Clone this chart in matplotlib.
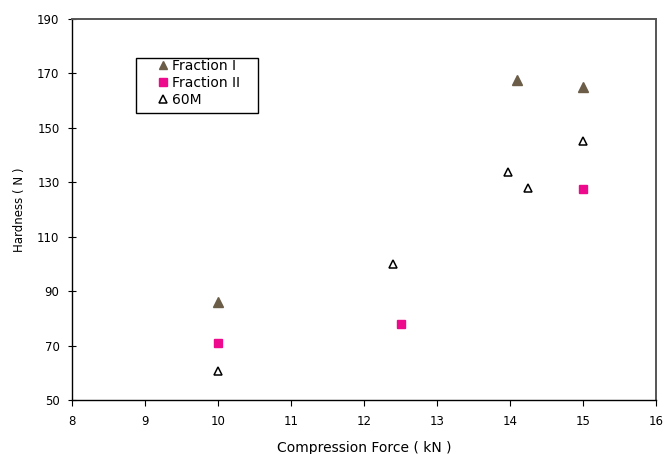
import numpy as np
import matplotlib
matplotlib.use("Agg")
import matplotlib.pyplot as plt
from matplotlib.patches import Rectangle

plt.rcParams['font.family'] = ['DejaVu Sans']

# compression force (kN) and tablet hardness (N)
frac1_x = [10.0, 14.1, 15.0]
frac1_y = [86.0, 167.5, 165.0]
frac2_x = [10.0, 12.5, 15.0]
frac2_y = [71.0, 78.0, 127.5]
m60_x = [10.0, 12.4, 13.97, 14.25, 15.0]
m60_y = [60.6, 100.0, 133.8, 127.8, 145.0]

xticks = np.arange(8, 17, 1)
yticks = np.arange(50, 191, 20)

W, H = 665, 454
fig = plt.figure(figsize=(W / 100, H / 100), dpi=100)
ax = fig.add_axes([72/W, 1 - 400/H, 584/W, 381/H])

ax.plot(frac1_x, frac1_y, linestyle='none', marker='^', markersize=6.5,
        color='#6b5d48', label='Fraction I')
ax.plot(frac2_x, frac2_y, linestyle='none', marker='s', markersize=6.3,
        color='#ee0a8c', label='Fraction II')
ax.plot(m60_x, m60_y, linestyle='none', marker='^', markersize=6.3,
        markerfacecolor='white', markeredgecolor='black', markeredgewidth=1.1,
        label='60M')

ax.set_xlim(8, 16)
ax.set_ylim(50, 190)
ax.set_xticks(xticks)
ax.set_yticks(yticks)
for side in ['top', 'right']:
    ax.spines[side].set_color('#555555')
    ax.spines[side].set_linewidth(1.4)
for side in ['left', 'bottom']:
    ax.spines[side].set_color('black')
    ax.spines[side].set_linewidth(1.0)
ax.tick_params(axis='y', direction='inout', length=6, labelsize=8.5, pad=6)
ax.tick_params(axis='x', direction='out', length=4, labelsize=8.5, pad=7)
ax.set_xlabel('Compression Force ( kN )', fontsize=10, labelpad=9)
ax.set_ylabel('Hardness ( N )', fontsize=8.5, labelpad=8)

# legend box with the entries set inside it
fig.patches.append(Rectangle((136/W, 1 - 113/H), 122/W, 55/H,
                             transform=fig.transFigure, fill=False,
                             edgecolor='black', linewidth=1.0))
leg = fig.legend(loc='upper left', bbox_to_anchor=(157/W, 1 - 59/H),
                 fontsize=10, frameon=False, handlelength=0.8,
                 handletextpad=0.25, borderpad=0, labelspacing=0.22,
                 markerscale=0.85, borderaxespad=0)

fig.savefig('out.png', dpi=100)
